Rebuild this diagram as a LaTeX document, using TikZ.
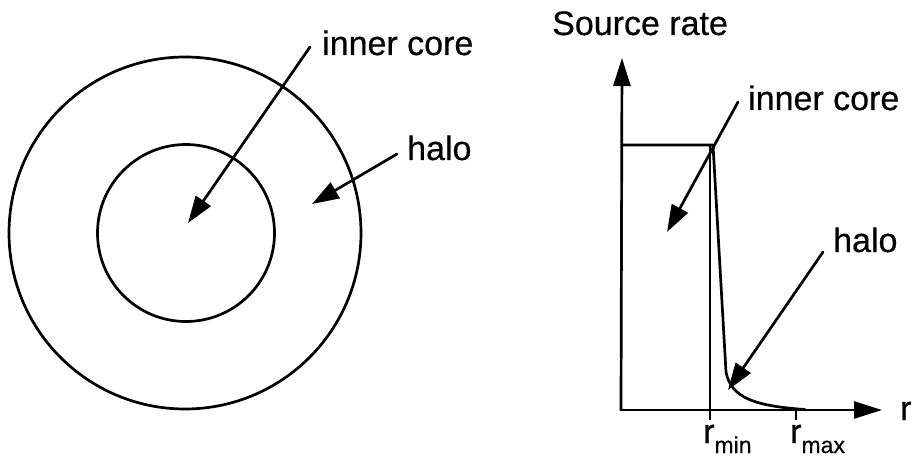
\documentclass[tikz,border=0pt]{standalone}
\usepackage{fontspec}
\setmainfont{Liberation Sans}[FakeBold=0.5,AutoFakeBold=0.5]
\usetikzlibrary{arrows.meta}
\begin{document}
\begin{tikzpicture}[x=1pt,y=-1pt,
  lbl/.style={anchor=base west,inner sep=0pt,font=\fontsize{34}{40}\selectfont\bfseries},
  ln/.style={line width=2.7pt,line cap=round,line join=round},
  pointer/.style={ln,-{Triangle[length=27pt,width=18pt]}},
  axis/.style={ln,-{Triangle[length=28pt,width=17pt]}}]
\useasboundingbox (0,0) rectangle (914,460);

% ---- cross-section: core and halo
\node[circle,draw,ln,minimum size=352pt,inner sep=0pt] (outer) at (185,233) {};
\node[circle,draw,ln,minimum size=177pt,inner sep=0pt] (inner) at (186,233) {};

\node[lbl] (coreL) at (322,55) {inner core};
\node[lbl] (haloL) at (407,160) {halo};
\coordinate (coreLtail) at (310,47);
\coordinate (coreLtip) at (188,223);
\coordinate (haloLtail) at (397,154);
\coordinate (haloLtip) at (312,204);
\draw[pointer] (coreLtail) -- (coreLtip);
\draw[pointer] (haloLtail) -- (haloLtip);

% ---- source-rate profile
\coordinate (origin) at (621,410);
\coordinate (ytop) at (622,58);
\coordinate (xend) at (882,410);
\draw[axis] (origin) -- (ytop);
\draw[axis] (origin) -- (xend);

\node[lbl] (ylab) at (552,35) {Source rate};
\node[lbl] (xlab) at (900,420) {r};

% plateau and fall-off
\coordinate (corner) at (713,145);
\draw[ln] (622,145) -- (corner)
  -- (726,372) .. controls (731,398) and (755,406) .. (805,409.5);

% r_min marker and r_max tick
\coordinate (rminTop) at (710,145);
\coordinate (rminBot) at (710,420);
\draw[line width=2pt] (rminTop) -- (rminBot);
\coordinate (rmaxTop) at (796,410);
\coordinate (rmaxBot) at (796,420);
\draw[line width=2pt] (rmaxTop) -- (rmaxBot);

\node[lbl] (rmin) at (703,443) {r\raisebox{-10pt}{\fontsize{23}{26}\selectfont min}};
\node[lbl] (rmax) at (790,443) {r\raisebox{-10pt}{\fontsize{23}{26}\selectfont max}};

\node[lbl] (coreR) at (748,110) {inner core};
\node[lbl] (haloR) at (833,252) {halo};
\coordinate (coreRtail) at (738,102);
\coordinate (coreRtip) at (667,232);
\coordinate (haloRtail) at (823,252);
\coordinate (haloRtip) at (728,390);
\draw[pointer] (coreRtail) -- (coreRtip);
\draw[pointer] (haloRtail) -- (haloRtip);
\end{tikzpicture}
\end{document}
